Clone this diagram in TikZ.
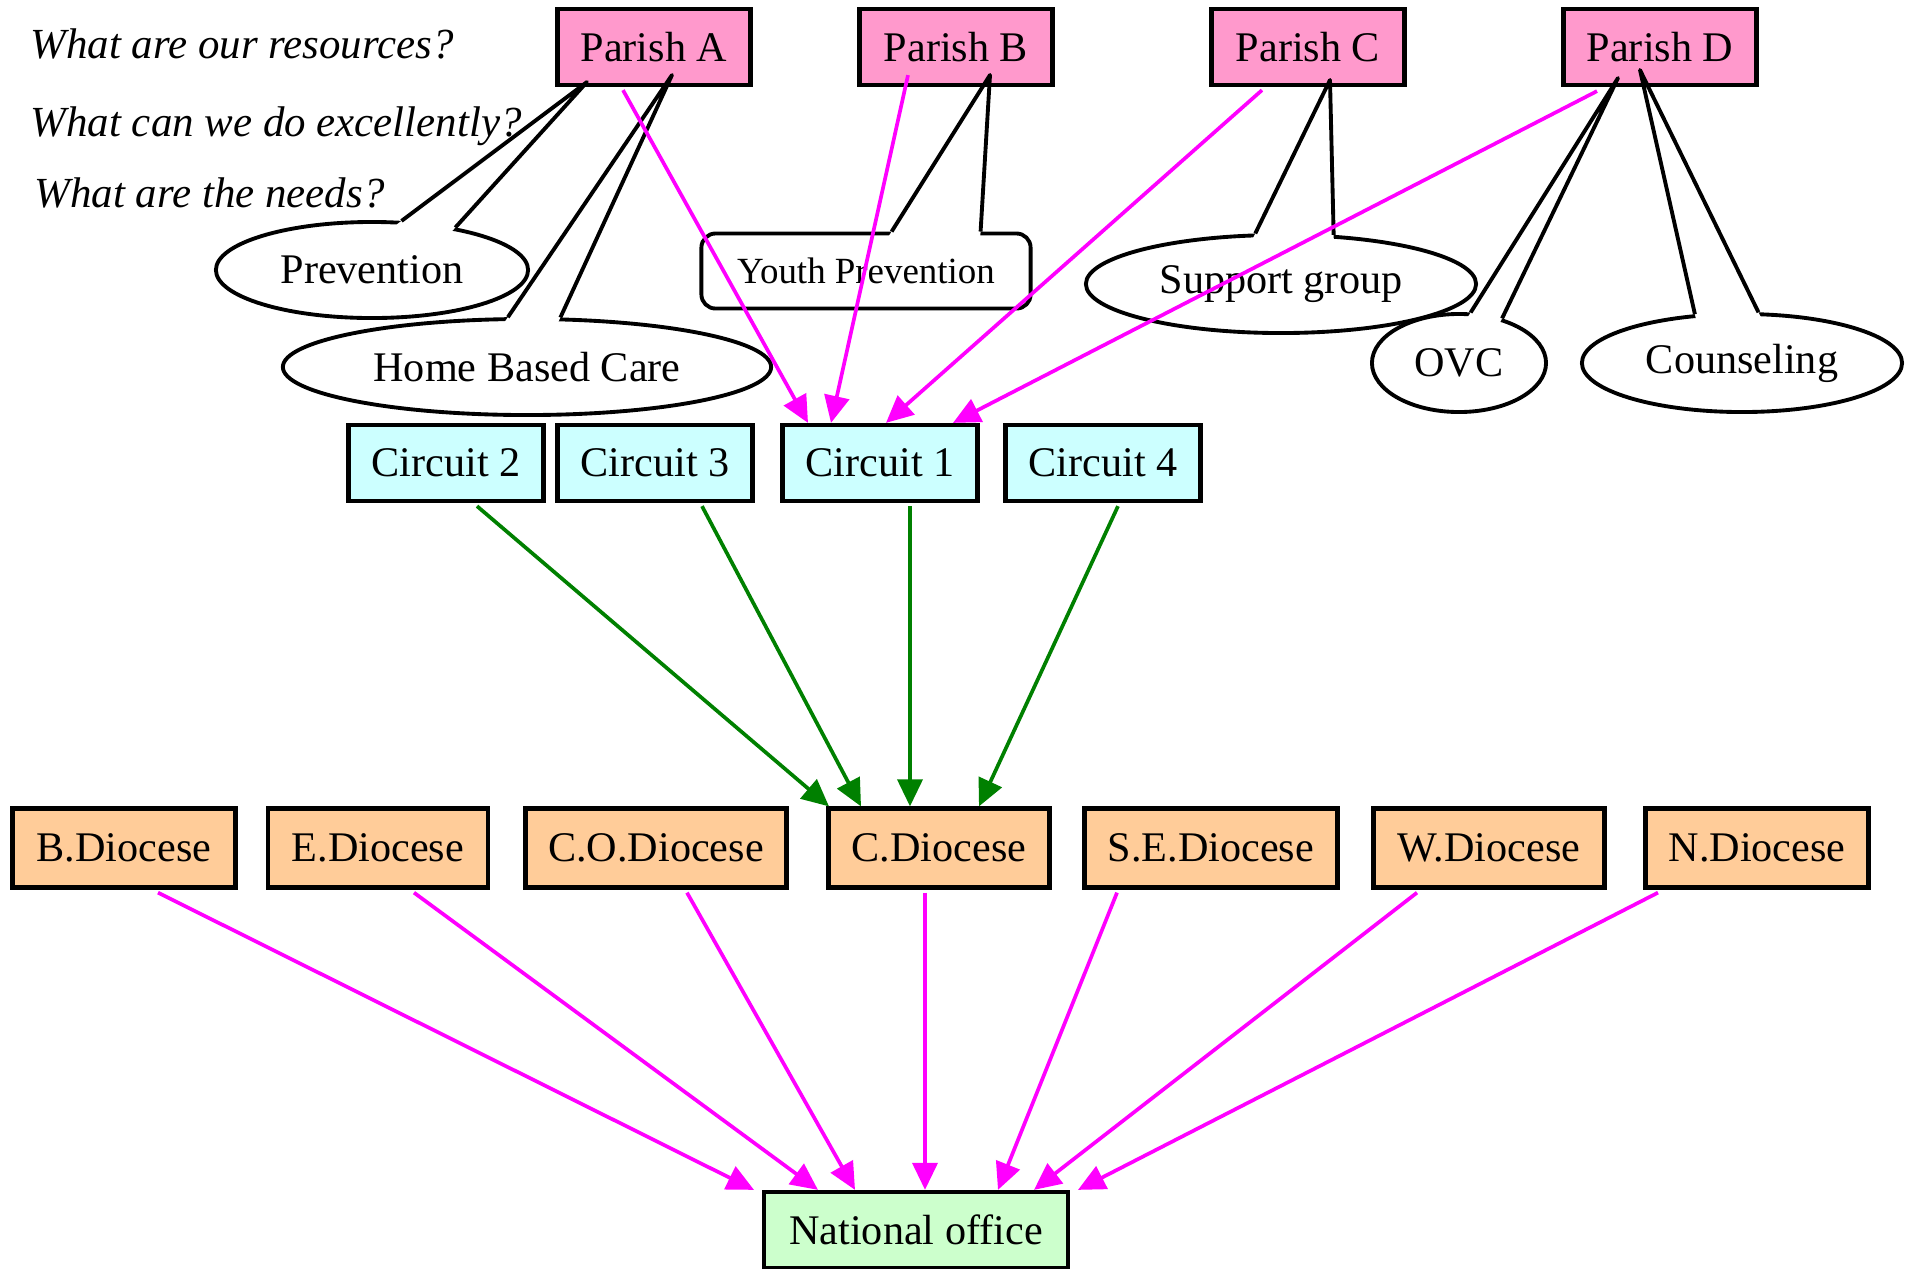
\documentclass[tikz,border=0pt]{standalone}
\usepackage{fontspec}
\setmainfont{Liberation Serif}
\usetikzlibrary{shapes.geometric,arrows.meta,calc}
\definecolor{parishpink}{HTML}{FF99CC}
\definecolor{circuitcyan}{HTML}{CCFFFF}
\definecolor{diocesetan}{HTML}{FFCC99}
\definecolor{nationalgreen}{HTML}{CCFFCC}
\definecolor{edgemagenta}{HTML}{FF00FF}
\definecolor{edgegreen}{HTML}{008000}

\begin{document}
\begin{tikzpicture}
[x=0.01cm,y=-0.01cm,
  font=\fontsize{12}{14}\selectfont,
  boxDecorate/.style={shape=rectangle,draw,line width=1.2pt,inner sep=0pt,minimum height=0.76cm},
  parishDecorate/.style={boxDecorate,fill=parishpink,minimum width=1.93cm},
  circuitDecorate/.style={boxDecorate,fill=circuitcyan,minimum width=1.95cm},
  dioceseDecorate/.style={boxDecorate,fill=diocesetan,minimum height=0.79cm},
  needDecorate/.style={shape=ellipse,draw,line width=1.1pt,fill=white,inner sep=0pt},
  questionDecorate/.style={anchor=base west,inner sep=0pt,font=\fontsize{12.2}{14}\selectfont\itshape},
  calloutDecorate/.style={-,line width=1.1pt,line join=round},
  pinkEdge/.style={-{Triangle[length=0.27cm,width=0.25cm]},line width=1.05pt,draw=edgemagenta},
  greenEdge/.style={-{Triangle[length=0.27cm,width=0.25cm]},line width=1.05pt,draw=edgegreen}]
\useasboundingbox (0,0) rectangle (1908,1269);
%% parishes
\foreach \nodename/\lbl/\x in {pA/Parish A/654, pB/Parish B/956, pC/Parish C/1308, pD/Parish D/1660} {
  \node (\nodename) at (\x,47) [parishDecorate] {\lbl};
}
%% circuits
\foreach \nodename/\lbl/\x in {c2/Circuit 2/446, c3/Circuit 3/655, c1/Circuit 1/880, c4/Circuit 4/1103} {
  \node (\nodename) at (\x,463) [circuitDecorate] {\lbl};
}
%% dioceses
\foreach \nodename/\lbl/\x/\w in {dB/B.Diocese/124/2.23, dE/E.Diocese/378/2.20, dCO/C.O.Diocese/656/2.61, dC/C.Diocese/939/2.21, dSE/S.E.Diocese/1211/2.53, dW/W.Diocese/1489/2.31, dN/N.Diocese/1757/2.23} {
  \node (\nodename) at (\x,848) [dioceseDecorate,minimum width=\w cm] {\lbl};
}
\node (nat) at (916,1230) [boxDecorate,fill=nationalgreen,minimum width=3.04cm] {National office};
%% questions
\node (q1) at (30,58) [questionDecorate] {What are our resources?};
\node (q2) at (30,136) [questionDecorate] {What can we do excellently?};
\node (q3) at (34,207) [questionDecorate] {What are the needs?};
%% needs
\node (prev) at (372,270) [needDecorate,minimum width=3.12cm,minimum height=0.96cm] {Prevention};
\node (hbc) at (527,367) [needDecorate,minimum width=4.88cm,minimum height=0.96cm] {Home Based Care};
\node (yp) at (866,271) [needDecorate,shape=rectangle,rounded corners=4pt,minimum width=3.29cm,minimum height=0.75cm,font=\fontsize{10.5}{12}\selectfont] {Youth Prevention};
\node (sup) at (1281,284) [needDecorate,minimum width=3.9cm,minimum height=0.98cm] {Support group};
\node (ovc) at (1459,363) [needDecorate,minimum width=1.74cm,minimum height=0.98cm] {OVC};
\node (cou) at (1742,363) [needDecorate,minimum width=3.2cm,minimum height=0.98cm] {Counseling};
%% callouts
\foreach \pnode/\ax/\ay/\tgt/\la/\ra in {pA/-67/35/prev/59/27, pA/18/28/hbc/111/56, pB/34/28/yp/57/19, pC/22/33/sup/117/43, pD/-42/31/ovc/77/46, pD/-20/23/cou/134/72} {
  \coordinate (apex) at ($(\pnode.center)+(\ax,\ay)$);
  \fill[white] ($(\tgt.\la)!-0.04!(apex)$) -- ($(\tgt.\la)!0.3!(apex)$) -- ($(\tgt.\ra)!0.3!(apex)$) -- ($(\tgt.\ra)!-0.04!(apex)$) -- cycle;
  \draw[calloutDecorate] (\tgt.\la) -- (apex) -- (\tgt.\ra);
}
%% edges
\foreach \src/\sx/\sy/\ex in {pA/-31/3/-72, pB/-48/-12/-49, pC/-46/3/6, pD/-63/4/73} {
  \draw[pinkEdge] ($(\src.south)+(\sx,\sy)$) -- ($(c1.north)+(\ex,0)$);
}
\foreach \src/\sx/\ex in {c2/31/-110, c3/47/-78, c1/30/-29, c4/15/40} {
  \draw[greenEdge] ($(\src.south)+(\sx,3)$) -- ($(dC.north)+(\ex,0)$);
}
\foreach \src/\sx/\ex in {dB/34/-162, dE/36/-98, dCO/31/-61, dC/-14/9, dSE/-94/82, dW/-72/118, dN/-99/162} {
  \draw[pinkEdge] ($(\src.south)+(\sx,3)$) -- ($(nat.north)+(\ex,0)$);
}
\end{tikzpicture}
\end{document}
